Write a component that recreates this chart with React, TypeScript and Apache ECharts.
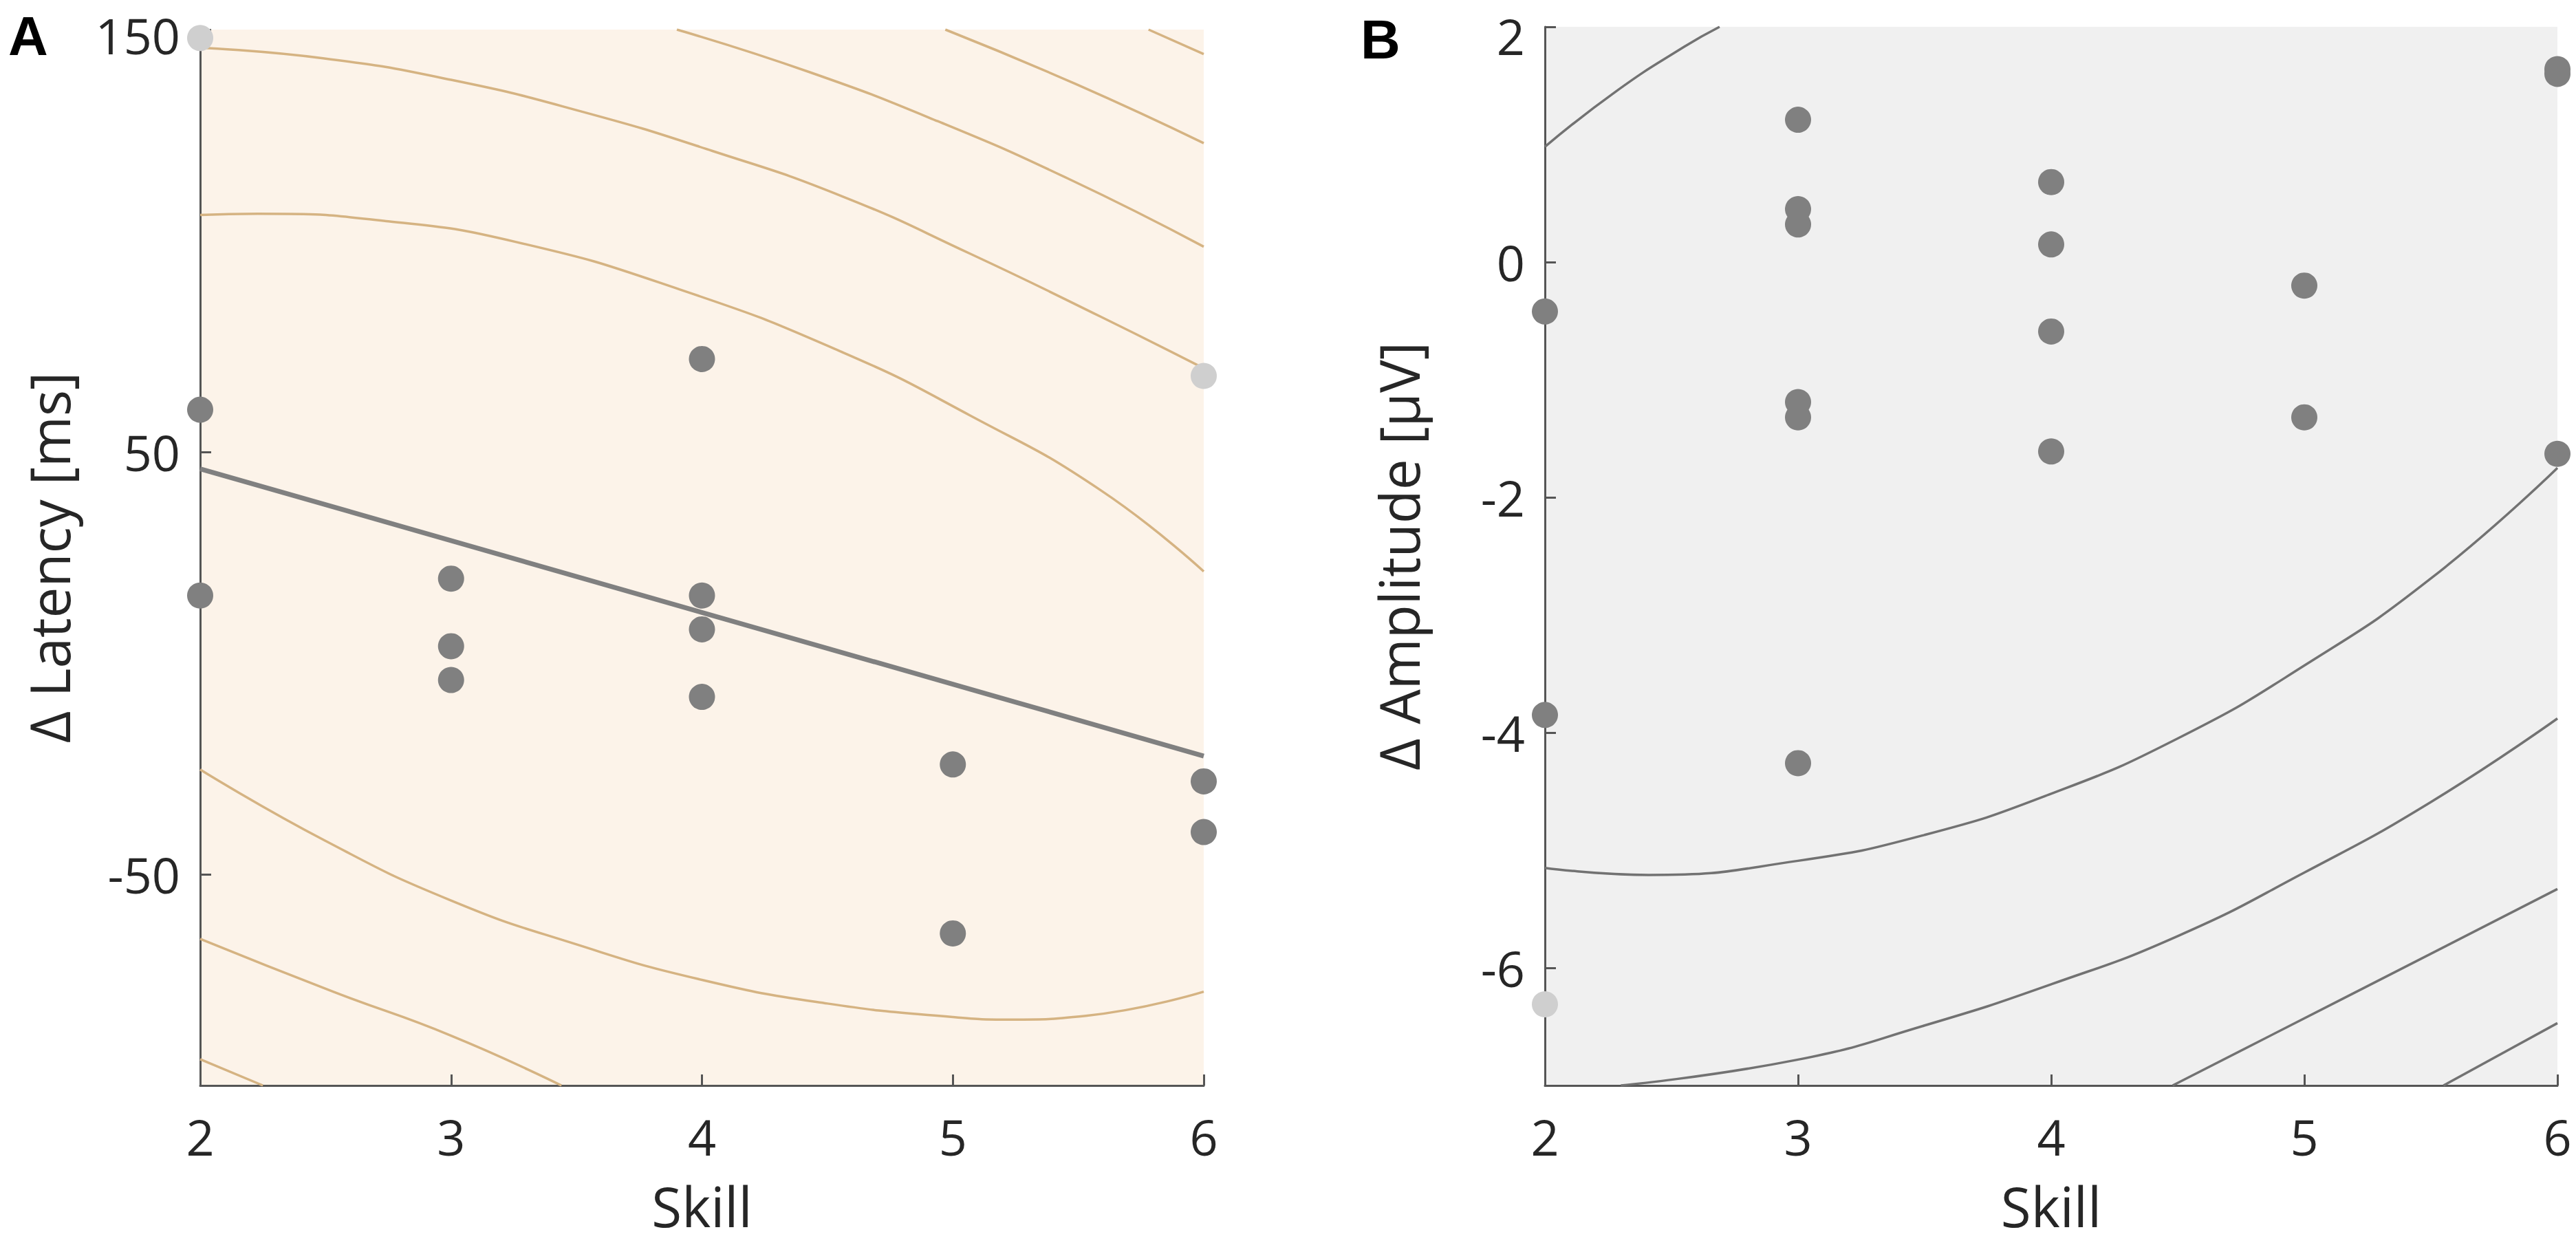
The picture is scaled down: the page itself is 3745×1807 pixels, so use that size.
import React, { useEffect, useRef } from "react";
import * as echarts from "echarts";

// ---------- Panel A data (Δ Latency vs Skill) ----------
const skillTicks = [2, 3, 4, 5, 6];
const latencyTicks = [-50, 50, 150];
const amplitudeTicks = [-6, -4, -2, 0, 2];

const latSkillDark = [2, 2, 3, 3, 3, 4, 4, 4, 4, 5, 5, 6, 6];
const latValueDark = [60, 16, 20, 4, -4, 72, 16, 8, -8, -24, -64, -28, -40];
const latSkillLight = [2, 6];
const latValueLight = [148, 68];

const fitSkill = [2, 6];
const fitLatency = [46, -22];

// contour curves of panel A (skill, latency)
const cA1Skill = [2.0, 2.49, 3.0, 3.52, 4.04, 4.56, 5.07, 5.59, 6.0];
const cA1Value = [145.7, 143.2, 138.1, 130.6, 121.3, 110.5, 96.9, 82.0, 69.8];
const cA2Skill = [2.0, 2.23, 2.75, 3.26, 3.91, 4.56, 5.07, 5.59, 6.0];
const cA2Value = [106.1, 106.4, 104.6, 99.7, 88.5, 73.6, 58.6, 40.9, 21.7];
const cA3Skill = [3.9, 4.43, 4.94, 5.46, 6.0];
const cA3Value = [150, 139.9, 128.3, 114.7, 98.6];
const cA4Skill = [4.97, 5.49, 6.0];
const cA4Value = [150, 137.1, 123.1];
const cA5Skill = [5.78, 6.0];
const cA5Value = [150, 144.2];
const cA6Skill = [2.0, 2.5, 3.0, 3.5, 4.0, 4.5, 5.0, 5.23, 5.53, 6.0];
const cA6Value = [-25.2, -42.1, -56.2, -66.6, -75.0, -80.6, -83.8, -84.4, -83.5, -77.8];
const cA7Skill = [2.0, 2.53, 3.0, 3.44];
const cA7Value = [-65.3, -77.8, -88.2, -100];
const cA8Skill = [2.0, 2.25];
const cA8Value = [-93.8, -100];

// ---------- Panel B data (Δ Amplitude vs Skill) ----------
const ampSkillDark = [2, 2, 3, 3, 3, 3, 3, 3, 4, 4, 4, 4, 5, 5, 6, 6, 6];
const ampValueDark = [-0.42, -3.85, 1.21, 0.45, 0.32, -1.19, -1.32, -4.26, 0.68, 0.15, -0.59, -1.61, -0.2, -1.32, 1.64, 1.6, -1.63];
const ampSkillLight = [2];
const ampValueLight = [-6.31];

const cB1Skill = [2.0, 2.28, 2.55, 2.69];
const cB1Value = [0.98, 1.45, 1.83, 2.0];
const cB2Skill = [2.0, 2.41, 3.0, 3.5, 4.0, 4.5, 5.0, 5.5, 6.0];
const cB2Value = [-5.15, -5.21, -5.09, -4.87, -4.52, -4.05, -3.43, -2.69, -1.75];
const cB3Skill = [2.3, 3.0, 3.5, 4.0, 4.5, 5.0, 5.5, 6.0];
const cB3Value = [-7.0, -6.78, -6.49, -6.14, -5.73, -5.19, -4.59, -3.88];
const cB4Skill = [4.48, 5.2, 6.0];
const cB4Value = [-7.0, -6.21, -5.33];
const cB5Skill = [5.55, 6.0];
const cB5Value = [-7.0, -6.47];

const FONT = '"Open Sans", "Noto Sans", sans-serif';
const TEXT = "#262626";
const AXIS = "#555555";
const TAN = "#d5b382";
const CGRAY = "#727272";
const DOT = "#808080";
const DOT_LIGHT = "#cfcfcf";

const zip = (xs: number[], ys: number[]) => xs.map((x, i) => [x, ys[i]]);

function contour(xs: number[], ys: number[], idx: number, color: string) {
  return {
    type: "line",
    xAxisIndex: idx,
    yAxisIndex: idx,
    data: zip(xs, ys),
    showSymbol: false,
    symbol: "none",
    smooth: 0.5,
    silent: true,
    z: 2,
    lineStyle: { color, width: 3.5 },
  };
}

function scatter(xs: number[], ys: number[], idx: number, color: string) {
  return {
    type: "scatter",
    xAxisIndex: idx,
    yAxisIndex: idx,
    data: zip(xs, ys),
    symbol: "circle",
    symbolSize: 38,
    clip: false,
    silent: true,
    z: 5,
    itemStyle: { color, opacity: 1 },
  };
}

const nameStyle = { fontSize: 80, lineHeight: 70, fontFamily: FONT, color: TEXT };

function yLabel(ticks: number[], top: number, pad: number) {
  return {
    fontSize: 72,
    fontFamily: FONT,
    color: TEXT,
    margin: 29,
    customValues: ticks,
    formatter: (v: number) => (!ticks.includes(v) ? "" : v === top ? `{top|${v}}` : String(v)),
    rich: {
      top: { fontSize: 72, fontFamily: FONT, color: TEXT, padding: [pad, 0, 0, 0] },
    },
  };
}

function xAxis(gridIndex: number) {
  return {
    type: "value",
    gridIndex,
    min: 2,
    max: 6,
    interval: 1,
    name: "Skill",
    nameLocation: "middle",
    nameGap: 139,
    nameTextStyle: nameStyle,
    axisLine: { show: true, onZero: false, lineStyle: { color: AXIS, width: 3 } },
    axisTick: { show: true, inside: true, length: 16, lineStyle: { color: AXIS, width: 3 }, customValues: skillTicks },
    axisLabel: { fontSize: 72, fontFamily: FONT, color: TEXT, margin: 38, customValues: skillTicks },
    splitLine: { show: false },
  };
}

export default function App() {
  const ref = useRef<HTMLDivElement>(null);
  useEffect(() => {
    if (!ref.current) return;
    const chart = echarts.init(ref.current, undefined, { renderer: "svg" });
    const option = {
      animation: false,
      backgroundColor: "#ffffff",
      grid: [
        { left: 291, top: 43, width: 1459, height: 1535, show: true, backgroundColor: "#fcf3e9", borderWidth: 0, containLabel: false },
        { left: 2246, top: 39, width: 1472, height: 1539, show: true, backgroundColor: "#f0f0f0", borderWidth: 0, containLabel: false },
      ],
      xAxis: [xAxis(0), xAxis(1)],
      yAxis: [
        {
          type: "value",
          gridIndex: 0,
          min: -100,
          max: 150,
          interval: 50,
          name: "Δ Latency [ms]",
          nameLocation: "middle",
          nameGap: 186,
          nameTextStyle: nameStyle,
          axisLine: { show: true, onZero: false, lineStyle: { color: AXIS, width: 3 } },
          axisTick: { show: true, inside: true, length: 16, lineStyle: { color: AXIS, width: 3 }, customValues: latencyTicks },
          axisLabel: yLabel(latencyTicks, 150, 16),
          splitLine: { show: false },
        },
        {
          type: "value",
          gridIndex: 1,
          min: -7,
          max: 2,
          interval: 1,
          name: "Δ Amplitude [μV]",
          nameLocation: "middle",
          nameGap: 179,
          nameTextStyle: nameStyle,
          axisLine: { show: true, onZero: false, lineStyle: { color: AXIS, width: 3 } },
          axisTick: { show: true, inside: true, length: 16, lineStyle: { color: AXIS, width: 3 }, customValues: amplitudeTicks },
          axisLabel: yLabel(amplitudeTicks, 2, 26),
          splitLine: { show: false },
        },
      ],
      graphic: [
        {
          type: "text",
          left: 12,
          top: 12,
          style: { text: "A", fontSize: 80, fontWeight: "bold", fontFamily: '"Liberation Sans", Arial, sans-serif', fill: "#000" },
        },
        {
          type: "text",
          left: 1978,
          top: 17,
          style: { text: "B", fontSize: 80, fontWeight: "bold", fontFamily: '"Liberation Sans", Arial, sans-serif', fill: "#000" },
        },
      ],
      series: [
        contour(cA1Skill, cA1Value, 0, TAN),
        contour(cA2Skill, cA2Value, 0, TAN),
        contour(cA3Skill, cA3Value, 0, TAN),
        contour(cA4Skill, cA4Value, 0, TAN),
        contour(cA5Skill, cA5Value, 0, TAN),
        contour(cA6Skill, cA6Value, 0, TAN),
        contour(cA7Skill, cA7Value, 0, TAN),
        contour(cA8Skill, cA8Value, 0, TAN),
        {
          type: "line",
          xAxisIndex: 0,
          yAxisIndex: 0,
          data: zip(fitSkill, fitLatency),
          showSymbol: false,
          symbol: "none",
          silent: true,
          z: 3,
          lineStyle: { color: DOT, width: 7 },
        },
        scatter(latSkillDark, latValueDark, 0, DOT),
        scatter(latSkillLight, latValueLight, 0, DOT_LIGHT),
        contour(cB1Skill, cB1Value, 1, CGRAY),
        contour(cB2Skill, cB2Value, 1, CGRAY),
        contour(cB3Skill, cB3Value, 1, CGRAY),
        contour(cB4Skill, cB4Value, 1, CGRAY),
        contour(cB5Skill, cB5Value, 1, CGRAY),
        scatter(ampSkillDark, ampValueDark, 1, DOT),
        scatter(ampSkillLight, ampValueLight, 1, DOT_LIGHT),
      ],
    };
    chart.setOption(option as any);
    return () => chart.dispose();
  }, []);
  return (
    <div
      ref={ref}
      style={{ position: "fixed", left: 0, top: 0, width: "3745px", height: "1807px", background: "#fff" }}
    />
  );
}
